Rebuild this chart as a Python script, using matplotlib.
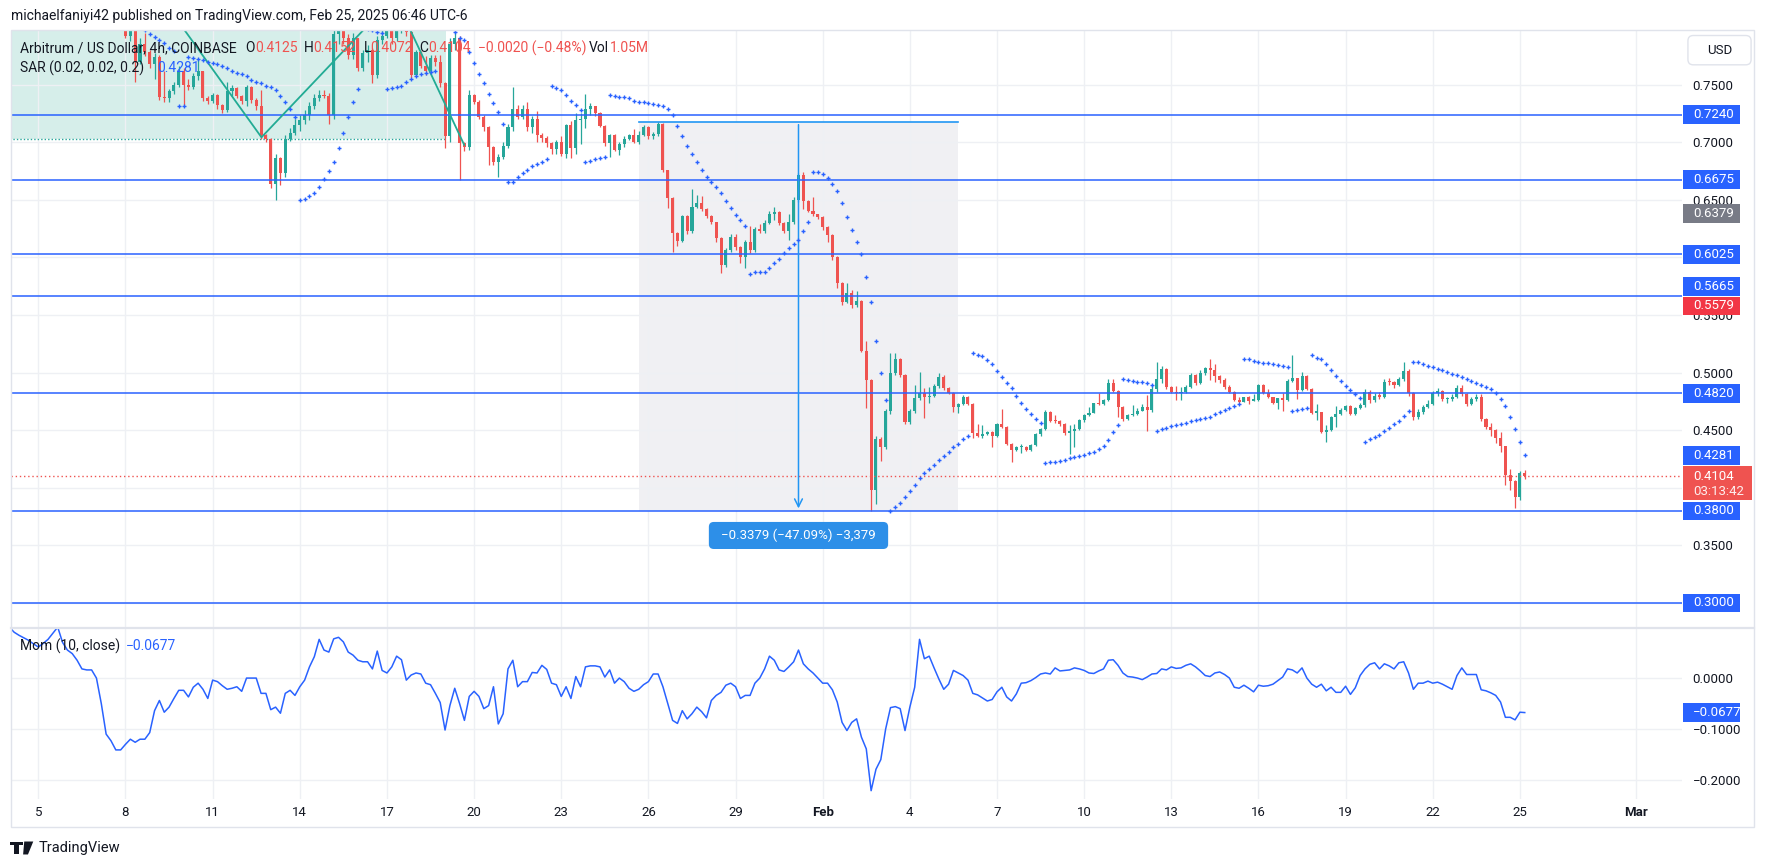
import matplotlib
matplotlib.use("Agg")
from matplotlib import pyplot as plt
import matplotlib.dates as mdates
import matplotlib.transforms as mtransforms
from matplotlib.patches import Rectangle, FancyBboxPatch, Polygon
from matplotlib.lines import Line2D
import pandas as pd

plt.rcParams['font.family'] = ['Roboto', 'DejaVu Sans']

# ---------------- values ----------------
# ARB/USD 4h candles, first visible candle opens Jan 8 00:00
first_open = 0.805
closes = [0.792, 0.797, 0.770, 0.785, 0.778, 0.768, 0.774, 0.739, 0.738, 0.744,
          0.750, 0.762, 0.750, 0.748, 0.757, 0.762, 0.738, 0.736, 0.741, 0.732,
          0.728, 0.744, 0.747, 0.740, 0.736, 0.748, 0.737, 0.731, 0.706, 0.703,
          0.664, 0.686, 0.673, 0.703, 0.708, 0.715, 0.719, 0.724, 0.731, 0.738,
          0.741, 0.740, 0.724, 0.794, 0.800, 0.790, 0.776, 0.790, 0.764, 0.777,
          0.780, 0.758, 0.789, 0.792, 0.797, 0.790, 0.800, 0.802, 0.796, 0.758,
          0.778, 0.766, 0.762, 0.773, 0.770, 0.751, 0.705, 0.785, 0.790, 0.699,
          0.696, 0.741, 0.735, 0.722, 0.713, 0.696, 0.683, 0.687, 0.697, 0.713,
          0.729, 0.722, 0.729, 0.713, 0.720, 0.706, 0.704, 0.699, 0.694, 0.7005,
          0.690, 0.715, 0.695, 0.719, 0.720, 0.7285, 0.731, 0.725, 0.714, 0.699,
          0.706, 0.693, 0.698, 0.703, 0.706, 0.700, 0.706, 0.7135, 0.705, 0.707,
          0.7155, 0.6755, 0.6513, 0.6215, 0.6146, 0.636, 0.6225, 0.644, 0.6475, 0.6418,
          0.636, 0.631, 0.617, 0.593, 0.6065, 0.6175, 0.609, 0.600, 0.6135, 0.606,
          0.6247, 0.6225, 0.630, 0.6377, 0.639, 0.630, 0.6225, 0.6307, 0.650, 0.6716,
          0.6493, 0.6406, 0.6377, 0.6348, 0.6261, 0.619, 0.6007, 0.578, 0.561, 0.569,
          0.559, 0.5625, 0.519, 0.4936, 0.398, 0.442, 0.4358, 0.4667, 0.500, 0.5118,
          0.498, 0.4575, 0.4667, 0.4777, 0.482, 0.4786, 0.480, 0.488, 0.4965, 0.4864,
          0.4826, 0.4705, 0.473, 0.4792, 0.473, 0.4479, 0.445, 0.4464, 0.4488, 0.445,
          0.4554, 0.4531, 0.4381, 0.4329, 0.4352, 0.4358, 0.4329, 0.4372, 0.4468, 0.4508,
          0.466, 0.4583, 0.4579, 0.4554, 0.4473, 0.4493, 0.4511, 0.4589, 0.4633, 0.4653,
          0.4734, 0.4728, 0.4763, 0.4907, 0.4844, 0.470, 0.4595, 0.4632, 0.4641, 0.467,
          0.470, 0.4672, 0.4855, 0.4942, 0.5029, 0.4872, 0.4835, 0.482, 0.4835, 0.4878,
          0.498, 0.4907, 0.4994, 0.5037, 0.5023, 0.4971, 0.4936, 0.4872, 0.4835, 0.4762,
          0.4748, 0.4786, 0.4757, 0.4762, 0.4893, 0.482, 0.4786, 0.474, 0.4777, 0.4762,
          0.493, 0.495, 0.485, 0.4971, 0.4855, 0.4653, 0.4655, 0.4488, 0.4502, 0.461,
          0.4641, 0.4676, 0.471, 0.4641, 0.469, 0.472, 0.4835, 0.476, 0.480, 0.479,
          0.492, 0.4916, 0.489, 0.494, 0.501, 0.482, 0.4615, 0.466, 0.470, 0.473,
          0.482, 0.4836, 0.477, 0.477, 0.479, 0.487, 0.4815, 0.473, 0.477, 0.479,
          0.4594, 0.453, 0.4499, 0.443, 0.4361, 0.411, 0.4056, 0.3922, 0.4125, 0.4104]

highs = [0.806, 0.800, 0.798, 0.790, 0.795, 0.780, 0.777, 0.776, 0.762, 0.746,
         0.752, 0.766, 0.764, 0.755, 0.760, 0.772, 0.762, 0.740, 0.743, 0.742,
         0.733, 0.752, 0.750, 0.748, 0.741, 0.750, 0.749, 0.738, 0.745, 0.707,
         0.704, 0.690, 0.687, 0.706, 0.712, 0.720, 0.724, 0.728, 0.735, 0.742,
         0.745, 0.745, 0.743, 0.800, 0.810, 0.805, 0.794, 0.795, 0.790, 0.780,
         0.784, 0.782, 0.792, 0.800, 0.806, 0.806, 0.810, 0.810, 0.808, 0.806,
         0.780, 0.779, 0.775, 0.776, 0.776, 0.776, 0.752, 0.790, 0.800, 0.792,
         0.700, 0.745, 0.742, 0.737, 0.724, 0.714, 0.697, 0.690, 0.700, 0.716,
         0.748, 0.732, 0.732, 0.735, 0.723, 0.727, 0.708, 0.705, 0.700, 0.702,
         0.705, 0.716, 0.718, 0.725, 0.725, 0.742, 0.734, 0.731, 0.726, 0.715,
         0.707, 0.707, 0.700, 0.705, 0.707, 0.711, 0.710, 0.715, 0.714, 0.709,
         0.7175, 0.717, 0.676, 0.652, 0.622, 0.637, 0.637, 0.659, 0.654, 0.653,
         0.643, 0.637, 0.631, 0.618, 0.608, 0.6205, 0.6205, 0.610, 0.615, 0.627,
         0.626, 0.629, 0.632, 0.640, 0.644, 0.640, 0.631, 0.638, 0.652, 0.673,
         0.6745, 0.650, 0.652, 0.638, 0.636, 0.627, 0.620, 0.601, 0.5785, 0.578,
         0.572, 0.5705, 0.563, 0.527, 0.4945, 0.445, 0.444, 0.468, 0.517, 0.5168,
         0.513, 0.499, 0.468, 0.4893, 0.5009, 0.4864, 0.4878, 0.490, 0.4994, 0.4975,
         0.4875, 0.4835, 0.474, 0.4805, 0.480, 0.4735, 0.4554, 0.4545, 0.4495, 0.4495,
         0.456, 0.4682, 0.4535, 0.4392, 0.436, 0.4378, 0.436, 0.438, 0.4475, 0.452,
         0.4675, 0.4665, 0.4633, 0.459, 0.4558, 0.4545, 0.4554, 0.4595, 0.464, 0.4699,
         0.474, 0.482, 0.477, 0.4942, 0.4948, 0.4848, 0.471, 0.464, 0.472, 0.469,
         0.4728, 0.4806, 0.4893, 0.5095, 0.5057, 0.504, 0.488, 0.4884, 0.4878, 0.489,
         0.500, 0.499, 0.5023, 0.5045, 0.5115, 0.5075, 0.4975, 0.495, 0.4893, 0.4843,
         0.4791, 0.479, 0.4797, 0.4815, 0.490, 0.490, 0.4855, 0.479, 0.478, 0.4826,
         0.4945, 0.5153, 0.4955, 0.5008, 0.498, 0.4865, 0.4728, 0.466, 0.4545, 0.462,
         0.471, 0.469, 0.472, 0.4715, 0.470, 0.4735, 0.486, 0.485, 0.482, 0.483,
         0.494, 0.495, 0.493, 0.496, 0.5095, 0.503, 0.483, 0.468, 0.472, 0.476,
         0.484, 0.487, 0.485, 0.479, 0.481, 0.489, 0.489, 0.482, 0.479, 0.481,
         0.481, 0.4609, 0.4558, 0.4511, 0.448, 0.4365, 0.416, 0.4065, 0.4146, 0.4152]

lows = [0.790, 0.788, 0.752, 0.768, 0.775, 0.764, 0.755, 0.737, 0.735, 0.735,
        0.742, 0.748, 0.732, 0.745, 0.746, 0.754, 0.736, 0.733, 0.734, 0.729,
        0.725, 0.726, 0.740, 0.738, 0.733, 0.731, 0.734, 0.728, 0.703, 0.700,
        0.660, 0.650, 0.663, 0.670, 0.701, 0.706, 0.710, 0.716, 0.719, 0.729,
        0.736, 0.738, 0.716, 0.720, 0.785, 0.785, 0.772, 0.772, 0.762, 0.762,
        0.770, 0.751, 0.756, 0.785, 0.790, 0.785, 0.788, 0.795, 0.792, 0.756,
        0.757, 0.764, 0.758, 0.762, 0.766, 0.748, 0.695, 0.700, 0.780, 0.667,
        0.692, 0.693, 0.733, 0.720, 0.710, 0.680, 0.680, 0.670, 0.685, 0.695,
        0.710, 0.720, 0.720, 0.710, 0.708, 0.700, 0.700, 0.696, 0.690, 0.690,
        0.688, 0.686, 0.686, 0.690, 0.698, 0.712, 0.724, 0.723, 0.713, 0.697,
        0.687, 0.692, 0.689, 0.696, 0.702, 0.699, 0.698, 0.705, 0.703, 0.703,
        0.705, 0.674, 0.643, 0.605, 0.610, 0.613, 0.620, 0.621, 0.643, 0.640,
        0.634, 0.629, 0.613, 0.586, 0.592, 0.605, 0.606, 0.595, 0.591, 0.604,
        0.605, 0.621, 0.621, 0.629, 0.632, 0.628, 0.621, 0.615, 0.629, 0.648,
        0.642, 0.639, 0.636, 0.633, 0.624, 0.613, 0.598, 0.573, 0.559, 0.560,
        0.556, 0.5565, 0.5175, 0.469, 0.3797, 0.386, 0.423, 0.434, 0.464, 0.498,
        0.496, 0.4555, 0.455, 0.465, 0.476, 0.4604, 0.474, 0.4785, 0.4865, 0.485,
        0.481, 0.466, 0.4653, 0.472, 0.4715, 0.4435, 0.444, 0.443, 0.4455, 0.4358,
        0.4445, 0.452, 0.437, 0.422, 0.432, 0.430, 0.432, 0.432, 0.436, 0.445,
        0.4505, 0.457, 0.4565, 0.454, 0.446, 0.4294, 0.4358, 0.450, 0.4575, 0.4625,
        0.4645, 0.472, 0.472, 0.475, 0.4835, 0.461, 0.458, 0.459, 0.4625, 0.4635,
        0.4665, 0.4496, 0.466, 0.4835, 0.4907, 0.486, 0.4825, 0.4762, 0.4762, 0.482,
        0.487, 0.489, 0.490, 0.4975, 0.4936, 0.4922, 0.4913, 0.486, 0.4825, 0.475,
        0.474, 0.4745, 0.4728, 0.475, 0.4755, 0.481, 0.4775, 0.473, 0.4681, 0.467,
        0.4755, 0.492, 0.4768, 0.484, 0.4845, 0.464, 0.4589, 0.4475, 0.440, 0.4495,
        0.4525, 0.463, 0.4665, 0.463, 0.4635, 0.468, 0.470, 0.474, 0.4745, 0.477,
        0.478, 0.489, 0.487, 0.488, 0.493, 0.480, 0.459, 0.460, 0.464, 0.469,
        0.472, 0.480, 0.475, 0.474, 0.475, 0.478, 0.480, 0.471, 0.472, 0.475,
        0.458, 0.451, 0.445, 0.439, 0.431, 0.4027, 0.398, 0.3823, 0.3892, 0.4072]

# Parabolic SAR (0.02, 0.02, 0.2), one dot per candle
sar = [0.812, 0.808, 0.805, 0.801, 0.797, 0.794, 0.791, 0.789, 0.786, 0.782,
       0.779, 0.731, 0.731, 0.774, 0.773, 0.772, 0.771, 0.770, 0.769, 0.768,
       0.766, 0.764, 0.762, 0.760, 0.759, 0.757, 0.754, 0.752, 0.751, 0.749,
       0.748, 0.745, 0.740, 0.735, 0.729, 0.722, 0.650, 0.651, 0.653, 0.656,
       0.661, 0.668, 0.675, 0.683, 0.695, 0.708, 0.722, 0.735, 0.746, 0.800,
       0.798, 0.797, 0.796, 0.795, 0.746, 0.747, 0.748, 0.749, 0.752, 0.755,
       0.757, 0.759, 0.760, 0.761, 0.762, 0.810, 0.805, 0.800, 0.796, 0.790,
       0.789, 0.778, 0.769, 0.759, 0.751, 0.742, 0.734, 0.726, 0.716, 0.665,
       0.665, 0.670, 0.673, 0.676, 0.679, 0.681, 0.683, 0.685, 0.749, 0.747,
       0.745, 0.741, 0.736, 0.732, 0.728, 0.683, 0.684, 0.685, 0.686, 0.687,
       0.741, 0.740, 0.739, 0.739, 0.738, 0.736, 0.735, 0.735, 0.734, 0.733,
       0.732, 0.731, 0.729, 0.724, 0.714, 0.705, 0.697, 0.690, 0.683, 0.676,
       0.670, 0.665, 0.661, 0.656, 0.649, 0.643, 0.6365, 0.632, 0.627, 0.5857,
       0.587, 0.587, 0.5877, 0.591, 0.595, 0.599, 0.604, 0.608, 0.612, 0.615,
       0.623, 0.631, 0.674, 0.674, 0.672, 0.669, 0.664, 0.6577, 0.647, 0.635,
       0.624, 0.613, 0.603, 0.583, 0.5616, 0.527, 0.4994, 0.4763, 0.380, 0.383,
       0.387, 0.392, 0.397, 0.402, 0.4083, 0.4126, 0.416, 0.4199, 0.4242, 0.4277,
       0.4314, 0.4352, 0.4378, 0.442, 0.4453, 0.5173, 0.5153, 0.5144, 0.511, 0.5075,
       0.5014, 0.496, 0.4907, 0.4864, 0.480, 0.4739, 0.4685, 0.4638, 0.4598, 0.456,
       0.4213, 0.4222, 0.4228, 0.4236, 0.4242, 0.4256, 0.4271, 0.428, 0.4288, 0.430,
       0.4308, 0.4334, 0.4366, 0.4415, 0.4482, 0.4546, 0.4942, 0.4936, 0.493, 0.4922,
       0.4916, 0.4907, 0.4893, 0.4493, 0.4508, 0.4522, 0.4537, 0.4545, 0.4551, 0.456,
       0.458, 0.4589, 0.4595, 0.4603, 0.4612, 0.4641, 0.4661, 0.4676, 0.469, 0.471,
       0.4728, 0.5118, 0.5118, 0.5104, 0.5096, 0.5087, 0.5081, 0.5072, 0.5066, 0.506,
       0.5046, 0.467, 0.4676, 0.4684, 0.4693, 0.5153, 0.513, 0.5115, 0.5075, 0.5023,
       0.4971, 0.4927, 0.4884, 0.485, 0.4815, 0.4777, 0.440, 0.442, 0.444, 0.446,
       0.449, 0.452, 0.455, 0.458, 0.462, 0.467, 0.5095, 0.509, 0.5075, 0.506,
       0.505, 0.5035, 0.502, 0.5005, 0.499, 0.4975, 0.496, 0.4945, 0.493, 0.491,
       0.4893, 0.4878, 0.4854, 0.4824, 0.4773, 0.4714, 0.4618, 0.4514, 0.4394, 0.4281]

# Momentum (10, close), 4h steps from Jan 4 00:00
mom = [0.100, 0.090, 0.084, 0.079, 0.074, 0.067, 0.061, 0.068, 0.076, 0.088,
       0.100, 0.070, 0.055, 0.048, 0.035, 0.018, 0.016, 0.016, 0.000, -0.050,
       -0.110, -0.123, -0.141, -0.141, -0.130, -0.120, -0.126, -0.120, -0.120, -0.107,
       -0.064, -0.044, -0.067, -0.057, -0.040, -0.024, -0.024, -0.037, -0.018, -0.010,
       -0.022, -0.040, -0.004, -0.007, -0.015, -0.022, -0.020, -0.017, -0.026, 0.000,
       0.000, 0.000, -0.030, -0.030, -0.062, -0.057, -0.069, -0.030, -0.024, -0.034,
       -0.017, -0.004, 0.022, 0.042, 0.076, 0.055, 0.051, 0.077, 0.080, 0.071,
       0.051, 0.045, 0.035, 0.032, 0.032, 0.018, 0.053, 0.015, 0.010, 0.022,
       0.043, 0.036, -0.004, 0.006, 0.010, 0.008, -0.010, -0.013, -0.030, -0.048,
       -0.102, -0.054, -0.020, -0.050, -0.083, -0.036, -0.026, -0.036, -0.060, -0.054,
       -0.017, -0.090, -0.070, 0.018, 0.035, -0.017, -0.007, -0.007, 0.011, 0.010,
       0.025, 0.017, -0.010, -0.013, -0.036, -0.017, -0.040, 0.003, -0.017, 0.022,
       0.024, 0.024, 0.022, 0.002, 0.016, -0.010, 0.000, -0.007, -0.020, -0.026,
       -0.022, -0.013, -0.007, 0.008, 0.008, -0.017, -0.050, -0.083, -0.089, -0.064,
       -0.080, -0.070, -0.057, -0.066, -0.078, -0.044, -0.034, -0.028, -0.014, -0.010,
       -0.017, -0.040, -0.034, -0.034, -0.010, 0.000, 0.018, 0.043, 0.035, 0.016,
       0.013, 0.022, 0.032, 0.055, 0.028, 0.018, 0.010, 0.000, -0.010, -0.010,
       -0.023, -0.047, -0.087, -0.103, -0.087, -0.080, -0.116, -0.139, -0.221, -0.179,
       -0.160, -0.100, -0.058, -0.056, -0.060, -0.103, -0.057, -0.018, 0.076, 0.038,
       0.043, 0.020, -0.002, -0.022, -0.012, 0.015, 0.010, 0.005, -0.004, -0.030,
       -0.033, -0.039, -0.045, -0.042, -0.027, -0.018, -0.037, -0.045, -0.031, -0.010,
       -0.009, -0.005, 0.001, 0.008, 0.010, 0.008, 0.020, 0.014, 0.015, 0.016,
       0.020, 0.018, 0.015, 0.010, 0.009, 0.014, 0.018, 0.035, 0.036, 0.025,
       0.010, 0.003, 0.002, 0.000, -0.003, 0.002, 0.008, 0.009, 0.018, 0.016,
       0.022, 0.019, 0.020, 0.025, 0.028, 0.022, 0.014, 0.005, 0.003, 0.010,
       0.012, 0.007, 0.000, -0.018, -0.020, -0.014, -0.020, -0.027, -0.014, -0.016,
       -0.015, -0.012, -0.005, 0.002, 0.018, 0.016, 0.010, 0.020, 0.000, -0.012,
       -0.018, -0.012, -0.025, -0.018, -0.028, -0.028, -0.016, -0.032, -0.019, 0.005,
       0.018, 0.027, 0.030, 0.018, 0.028, 0.024, 0.018, 0.030, 0.032, 0.010,
       -0.022, -0.010, -0.010, -0.006, -0.010, -0.008, -0.012, -0.017, -0.022, 0.005,
       0.020, 0.007, 0.007, 0.007, -0.023, -0.025, -0.029, -0.034, -0.047, -0.077,
       -0.077, -0.082, -0.067, -0.0677]

levels = [0.7240, 0.6675, 0.6025, 0.5665, 0.4820, 0.3800, 0.3000]
price_ticks = [0.30, 0.35, 0.40, 0.45, 0.50, 0.55, 0.60, 0.65, 0.70, 0.75]
# 0.3000, 0.4000 and 0.6000 sit under the coloured tags and are not visible
price_tick_labels = ['', '0.3500', '', '0.4500', '0.5000', '0.5500', '', '0.6500', '0.7000', '0.7500']
mom_ticks = [0.0, -0.1, -0.2]
mom_tick_labels = ['0.0000', '\u22120.1000', '\u22120.2000']
tick_days = ['2025-01-05', '2025-01-08', '2025-01-11', '2025-01-14', '2025-01-17',
             '2025-01-20', '2025-01-23', '2025-01-26', '2025-01-29', '2025-02-01',
             '2025-02-04', '2025-02-07', '2025-02-10', '2025-02-13', '2025-02-16',
             '2025-02-19', '2025-02-22', '2025-02-25', '2025-03-01']
tick_labels = ['5', '8', '11', '14', '17', '20', '23', '26', '29', 'Feb',
               '4', '7', '10', '13', '16', '19', '22', '25', 'Mar']

last_price = 0.4104
sar_last = 0.4281
mom_last = -0.0677
extra_tags = [(0.6379, '0.6379', '#787b86'), (0.5579, '0.5579', '#f23645')]

# drawings on the chart
zone_start, zone_end, zone_bottom = '2025-01-03 00:00', '2025-01-19 01:00', 0.7030
zig_t = ['2025-01-09 02:24', '2025-01-12 16:20', '2025-01-17 06:30', '2025-01-19 15:50']
zig_p = [0.830, 0.7042, 0.826, 0.6976]
meas_start, meas_end, meas_x = '2025-01-25 16:00', '2025-02-05 16:00', '2025-01-31 04:00'
meas_top, meas_bottom = 0.7176, 0.3797
meas_text = '\u22120.3379 (\u221247.09%) \u22123,379'

UP, DOWN, BLUE, TXT = '#26a69a', '#ef5350', '#2962ff', '#131722'
GRID = '#eef0f4'


def dnum(s):
    return mdates.date2num(pd.Timestamp(s).to_pydatetime())


candle_x = mdates.date2num(pd.date_range('2025-01-08 00:00', periods=len(closes), freq='4h').to_pydatetime())
mom_x = mdates.date2num(pd.date_range('2025-01-04 00:00', periods=len(mom), freq='4h').to_pydatetime())

# ---------------- figure layout (screen px of a 1568x770 view) ----------------
fig = plt.figure(figsize=(17.68, 8.68), dpi=100)
fig.patch.set_facecolor('white')
W, H = 1568.0, 770.0


def fx(px):
    return px / W


def fy(py):
    return 1 - py / H


def axx(px):
    return (px - 10) / 1482.0


ax = fig.add_axes([fx(10), fy(557), fx(1492) - fx(10), fy(27.5) - fy(557)])
axm = fig.add_axes([fx(10), fy(709), fx(1492) - fx(10), fy(557) - fy(709)], sharex=ax)

ax.set_xlim(dnum('2025-01-04 01:38'), dnum('2025-03-02 14:10'))
ax.set_ylim(0.27838, 0.79648)
axm.set_ylim(-0.2378, 0.0985)

for a in (ax, axm):
    for s in a.spines.values():
        s.set_visible(False)
    a.set_axisbelow(True)
    a.grid(True, color=GRID, lw=1)
    a.yaxis.tick_right()

# ---------------- drawings behind the series ----------------
z0, z1 = dnum(zone_start), dnum(zone_end)
ax.add_patch(Rectangle((z0, zone_bottom), z1 - z0, 0.2, fc='#d6eeea', ec='none', zorder=0.3))
ax.plot([z0, z1], [zone_bottom, zone_bottom], color=UP, ls=(0, (1, 1.5)), lw=1, zorder=0.6)

m0, m1, mx = dnum(meas_start), dnum(meas_end), dnum(meas_x)
ax.add_patch(Rectangle((m0, meas_bottom), m1 - m0, meas_top - meas_bottom,
                       fc='#f0f0f3', ec='none', zorder=0.3))

# ---------------- candles ----------------
opens = [first_open] + closes[:-1]
cols = [UP if c >= o else DOWN for o, c in zip(opens, closes)]
ax.vlines(candle_x, lows, highs, colors=cols, lw=0.9, zorder=2)
body_h = [max(abs(c - o), 0.0012) for o, c in zip(opens, closes)]
body_b = [min(o, c) for o, c in zip(opens, closes)]
ax.bar(candle_x, body_h, bottom=body_b, width=0.105, color=cols, lw=0, zorder=2.1)

# level lines, SAR, last price
for lv in levels:
    ax.axhline(lv, color=BLUE, lw=1.1, zorder=2.5)
ax.axhline(last_price, color=DOWN, ls=(0, (1, 2)), lw=1, zorder=2.4)
ax.plot(candle_x, sar, ls='none', marker='+', ms=3.0, mew=1.0, color=BLUE, zorder=3)

# zigzag pattern
ax.plot([dnum(t) for t in zig_t], zig_p, color='#22ab94', lw=1.3, zorder=2.6)

# measurement tool
ax.plot([m0, m1], [meas_top, meas_top], color='#2196f3', lw=1.2, zorder=2.6)
ax.annotate('', xy=(mx, meas_bottom), xytext=(mx, meas_top),
            arrowprops=dict(arrowstyle='->', color='#2196f3', lw=1.1, mutation_scale=14),
            zorder=2.6)
bw, bh, by = 159 / 25.764, 24 / 1022.0, 0.3586
ax.add_patch(FancyBboxPatch((mx - bw / 2, by - bh / 2), bw, bh,
                            boxstyle='round,pad=0,rounding_size=0.17',
                            mutation_aspect=(1 / 1022.0) / (1 / 25.764),
                            fc='#2d8fe8', ec='none', zorder=5))
ax.text(mx, by, meas_text, ha='center', va='center', color='white', fontsize=9.5, zorder=6)

# momentum line
axm.plot(mom_x, mom, color=BLUE, lw=1.1, zorder=3)

# ---------------- axes ticks ----------------
tick_x = [dnum(t) for t in tick_days]
axm.set_xticks(tick_x)
axm.set_xticklabels(tick_labels)
axm.tick_params(axis='x', length=0, pad=5, labelsize=9.5, labelcolor=TXT)
for lbl in axm.get_xticklabels():
    if lbl.get_text() in ('Feb', 'Mar'):
        lbl.set_fontweight('bold')
ax.tick_params(axis='x', labelbottom=False, length=0)

ax.set_yticks(price_ticks)
ax.set_yticklabels(price_tick_labels)
axm.set_yticks(mom_ticks)
axm.set_yticklabels(mom_tick_labels)
for a in (ax, axm):
    a.tick_params(axis='y', length=0, pad=7.3, labelsize=9.5, labelcolor=TXT)


# ---------------- price scale tags ----------------
def tag(a, y, text, fc, ppu, top=None, bottom=None, x_end=1543.5):
    tr = mtransforms.blended_transform_factory(a.transAxes, a.transData)
    h = 16.5 / ppu
    y0 = y - h / 2 if bottom is None else bottom
    y1 = y + h / 2 if top is None else top
    a.add_patch(Rectangle((axx(1493), y0), axx(x_end) - axx(1493), y1 - y0, transform=tr,
                          fc=fc, ec='none', clip_on=False, zorder=5))
    if text:
        a.text(axx(1501.5), y, text, transform=tr, color='white', fontsize=9.5,
               ha='left', va='center', clip_on=False, zorder=6)


for lv in levels:
    ty = lv + 0.0083 if abs(lv - 0.5665) < 1e-6 else lv
    tag(ax, ty, '%.4f' % lv, BLUE, 1022.0)
for v, s, c in extra_tags:
    tag(ax, v, s, c, 1022.0)
tag(ax, sar_last, '%.4f' % sar_last, BLUE, 1022.0)
tag(ax, 0.4102, '%.4f' % last_price, DOWN, 1022.0, top=0.4191, bottom=0.3892, x_end=1553.4)
trp = mtransforms.blended_transform_factory(ax.transAxes, ax.transData)
ax.text(axx(1501.5), 0.3968, '03:13:42', transform=trp, color='white', fontsize=9.5,
        ha='left', va='center', clip_on=False, zorder=6, alpha=0.9)
tag(axm, mom_last, '\u2212%.4f' % abs(mom_last), BLUE, 452.0)

# ---------------- frame, separator, buttons ----------------
fig.add_artist(Rectangle((fx(9.5), fy(734)), fx(1555.5) - fx(9.5), fy(27) - fy(734),
                         transform=fig.transFigure, fill=False, ec='#e0e3eb', lw=1))
fig.add_artist(Line2D([fx(9.5), fx(1555.5)], [fy(557), fy(557)], transform=fig.transFigure,
                      color='#e0e3eb', lw=1.6))
fig.add_artist(FancyBboxPatch((fx(1497), fy(57.5)), fx(1553) - fx(1497), fy(31.5) - fy(57.5),
                              boxstyle='round,pad=0,rounding_size=0.003', mutation_aspect=1768 / 868.0,
                              transform=fig.transFigure, fc='white', ec='#e0e3eb', lw=1))
fig.text(fx(1525), fy(44.5), 'USD', ha='center', va='center', fontsize=9.5, color=TXT)

# ---------------- header and legends ----------------
fig.text(fx(10), fy(14), 'michaelfaniyi42 published on TradingView.com, Feb 25, 2025 06:46 UTC-6',
         fontsize=10, color=TXT, va='center')

legend1 = [(17.6, 'Arbitrum / US Dollar, 4h, COINBASE', TXT),
           (217.8, 'O', TXT), (226.7, '0.4125', DOWN),
           (269.8, 'H', TXT), (278.0, '0.4152', DOWN),
           (322.4, 'L', TXT), (328.5, '0.4072', DOWN),
           (372.2, 'C', TXT), (379.4, '0.4104', DOWN),
           (424.0, '\u22120.0020 (\u22120.48%)', DOWN),
           (522.6, 'Vol', TXT), (541.0, '1.05M', DOWN)]
for px, s, c in legend1:
    fig.text(fx(px), fy(43), s, fontsize=10, color=c, va='center')
fig.text(fx(17.6), fy(60.6), 'SAR (0.02, 0.02, 0.2)', fontsize=10, color=TXT, va='center')
fig.text(fx(139.8), fy(60.6), '0.4281', fontsize=10, color=BLUE, va='center')
fig.text(fx(17.8), fy(573.5), 'Mom (10, close)', fontsize=10, color=TXT, va='center')
fig.text(fx(112), fy(573.5), '\u22120.0677', fontsize=10, color=BLUE, va='center')

# TradingView logo mark + name
logo = [[(9, 746.5), (16.5, 746.5), (16.5, 758), (12.5, 758), (12.5, 750), (9, 750)],
        [(17.2, 746.8), (20.2, 746.8), (20.2, 750), (17.2, 750)],
        [(21.5, 746.5), (29.5, 746.5), (24.8, 758), (20.5, 758)]]
for pts in logo:
    fig.add_artist(Polygon([(fx(a), fy(b)) for a, b in pts], closed=True,
                           transform=fig.transFigure, fc=TXT, ec='none'))
fig.text(fx(34.6), fy(752.3), 'TradingView', fontsize=10.5, color=TXT, va='center')

fig.savefig('out.png', dpi=100, facecolor='white')
